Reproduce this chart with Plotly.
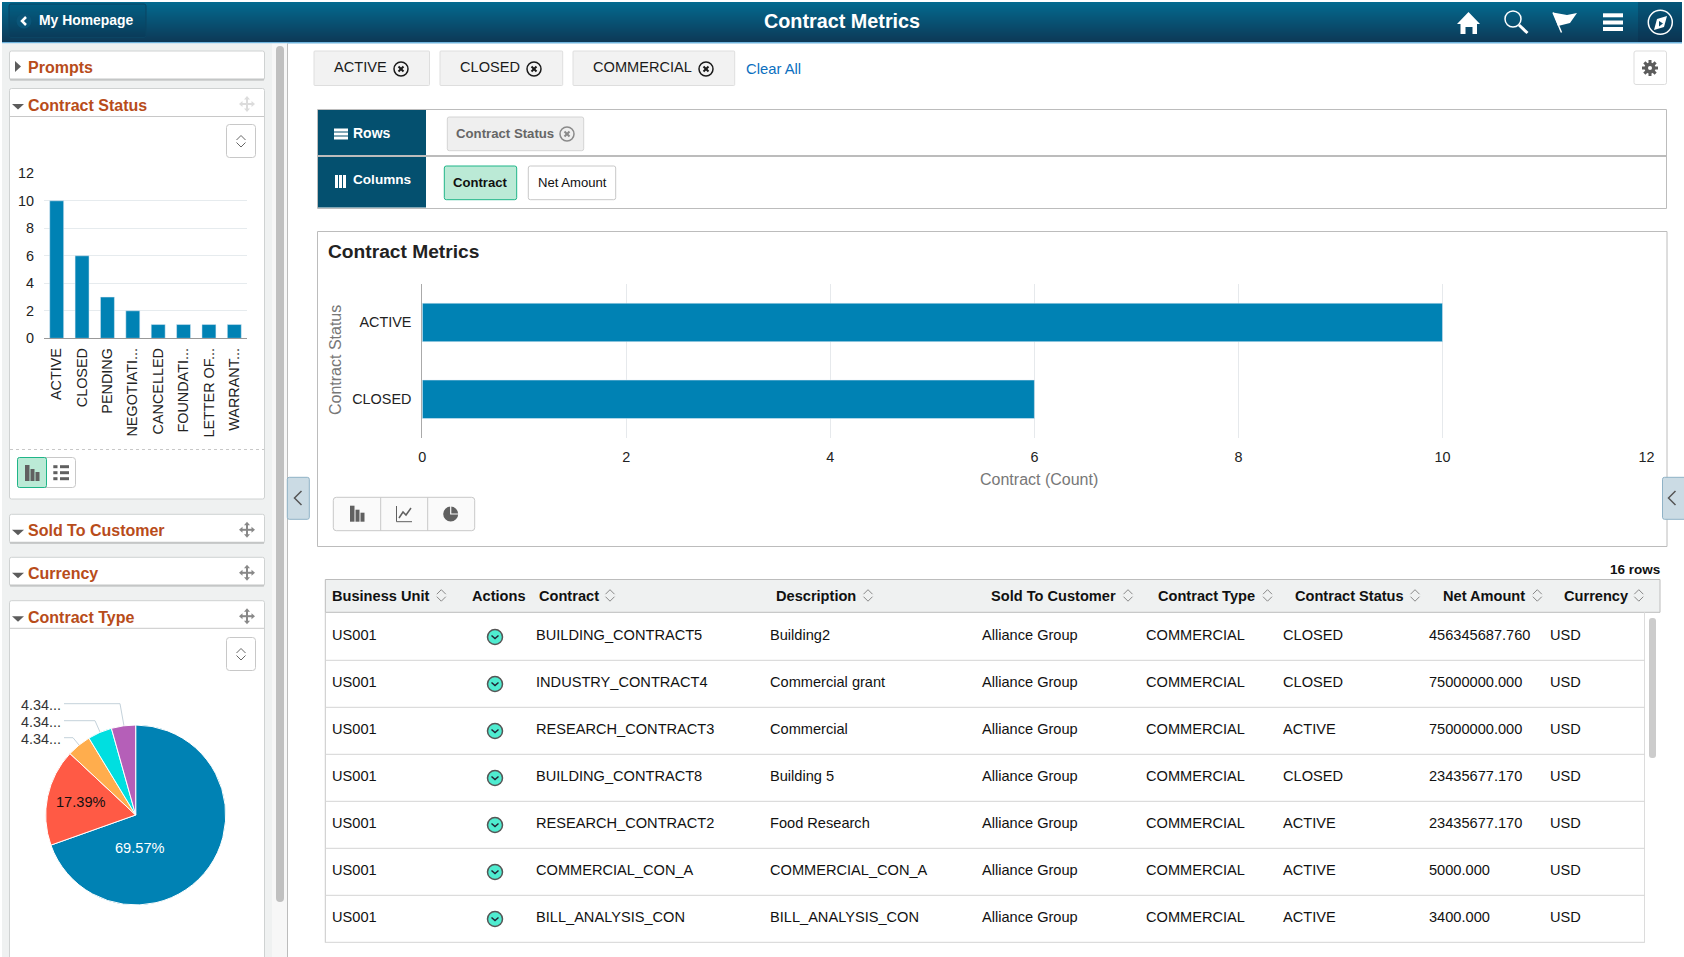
"""Contract Metrics pivot page, drawn as one Plotly figure in page pixels."""
import math

import plotly.graph_objects as go

W, H = 1684, 957
FONT = "Liberation Sans"
BLUE = "#0082b4"
ORANGE = "#b84c1a"

# left facet: contract status
status_labels = ["ACTIVE", "CLOSED", "PENDING", "NEGOTIATI...", "CANCELLED", "FOUNDATI...", "LETTER OF...", "WARRANT..."]
status_counts = [10, 6, 3, 2, 1, 1, 1, 1]

# left facet: contract type
type_names = ["Commercial", "Research", "Foundation", "Government", "Other"]
type_counts = [16, 4, 1, 1, 1]
type_colors = [BLUE, "#ff5a45", "#ffad4d", "#00dfe0", "#b55fb8"]
type_labels = ["69.57%", "17.39%", "4.34...", "4.34...", "4.34..."]

# main chart
chart_status = ["ACTIVE", "CLOSED"]
chart_counts = [10, 6]

# grid
table_headers = ["Business Unit", "Actions", "Contract", "Description", "Sold To Customer",
                 "Contract Type", "Contract Status", "Net Amount", "Currency"]
contracts = ["BUILDING_CONTRACT5", "INDUSTRY_CONTRACT4", "RESEARCH_CONTRACT3", "BUILDING_CONTRACT8",
             "RESEARCH_CONTRACT2", "COMMERCIAL_CON_A", "BILL_ANALYSIS_CON"]
descriptions = ["Building2", "Commercial grant", "Commercial", "Building 5",
                "Food Research", "COMMERCIAL_CON_A", "BILL_ANALYSIS_CON"]
row_status = ["CLOSED", "CLOSED", "ACTIVE", "CLOSED", "ACTIVE", "ACTIVE", "ACTIVE"]
net_amounts = ["456345687.760", "75000000.000", "75000000.000", "23435677.170",
               "23435677.170", "5000.000", "3400.000"]

shapes = []
notes = []


def px(x):
    return x / W


def py(y):
    return 1 - y / H


def rect(x0, y0, x1, y1, fill="rgba(0,0,0,0)", line=None, width=1, r=0):
    outline = dict(color=line, width=width) if line else dict(width=0)
    if r:
        path = (f"M{px(x0 + r)} {py(y0)} L{px(x1 - r)} {py(y0)} Q{px(x1)} {py(y0)} {px(x1)} {py(y0 + r)} "
                f"L{px(x1)} {py(y1 - r)} Q{px(x1)} {py(y1)} {px(x1 - r)} {py(y1)} "
                f"L{px(x0 + r)} {py(y1)} Q{px(x0)} {py(y1)} {px(x0)} {py(y1 - r)} "
                f"L{px(x0)} {py(y0 + r)} Q{px(x0)} {py(y0)} {px(x0 + r)} {py(y0)} Z")
        shapes.append(dict(type="path", xref="paper", yref="paper", path=path, fillcolor=fill, line=outline, layer="below"))
    else:
        shapes.append(dict(type="rect", xref="paper", yref="paper", x0=px(x0), x1=px(x1), y0=py(y0), y1=py(y1),
                           fillcolor=fill, line=outline, layer="below"))


def poly(pts, fill=None, line=None, width=1, closed=False, dash=None):
    path = "M" + " L".join(f"{px(x)} {py(y)}" for x, y in pts) + (" Z" if closed else "")
    outline = dict(color=line, width=width, dash=dash) if line else dict(width=0)
    shapes.append(dict(type="path", xref="paper", yref="paper", path=path, fillcolor=fill or "rgba(0,0,0,0)",
                       line=outline, layer="below"))


def circle(cx, cy, r, fill="rgba(0,0,0,0)", line=None, width=1):
    outline = dict(color=line, width=width) if line else dict(width=0)
    shapes.append(dict(type="circle", xref="paper", yref="paper", x0=px(cx - r), x1=px(cx + r),
                       y0=py(cy - r), y1=py(cy + r), fillcolor=fill, line=outline, layer="below"))


def note(text, x, y, size=14.6, color="#1a1a1a", bold=False, anchor="left", angle=0):
    notes.append(dict(text=f"<b>{text}</b>" if bold else text, x=px(x), y=py(y), xref="paper", yref="paper",
                      xanchor=anchor, yanchor="middle", showarrow=False, borderpad=0, borderwidth=0, textangle=angle,
                      font=dict(family=FONT, size=size, color=color)))


def sort_icon(cx, cy, color="#888"):
    poly([(cx - 4.5, cy - 1), (cx, cy - 5.5), (cx + 4.5, cy - 1)], line=color)
    poly([(cx - 4.5, cy + 1.5), (cx, cy + 6), (cx + 4.5, cy + 1.5)], line=color)


def move_icon(cx, cy, color="#888"):
    poly([(cx - 6, cy), (cx + 6, cy)], line=color, width=2)
    poly([(cx, cy - 6), (cx, cy + 6)], line=color, width=2)
    for sx, sy in [(1, 0), (-1, 0), (0, 1), (0, -1)]:
        tip = (cx + sx * 8, cy + sy * 8)
        a = (cx + sx * 4.5 + sy * 3, cy + sy * 4.5 + sx * 3)
        b = (cx + sx * 4.5 - sy * 3, cy + sy * 4.5 - sx * 3)
        poly([tip, a, b], fill=color, closed=True)


def close_icon(cx, cy, color="#1a1a1a"):
    circle(cx, cy, 7, line=color, width=1.5)
    poly([(cx - 2.5, cy - 2.5), (cx + 2.5, cy + 2.5)], line=color, width=2)
    poly([(cx - 2.5, cy + 2.5), (cx + 2.5, cy - 2.5)], line=color, width=2)


def bars_icon(x, y_bottom):
    rect(x, y_bottom - 16, x + 4.5, y_bottom, fill="#606060")
    rect(x + 5.5, y_bottom - 12, x + 9.5, y_bottom, fill="#606060")
    rect(x + 10.5, y_bottom - 9, x + 14.5, y_bottom, fill="#606060")


def facet_panel(y0, y1, title, open_panel=True, move_color="#888"):
    rect(9.5, y0, 264.5, y1, fill="white", line="#cfd2d2", r=2)
    if y1 - y0 < 40:
        poly([(10, y1 - 0.5), (264, y1 - 0.5)], line="#c4c6c6", width=2)
    tri_y = y0 + 15.5
    if open_panel:
        poly([(12, tri_y), (24, tri_y), (18, tri_y + 5.5)], fill="#5c5c5c", closed=True)
    else:
        poly([(15, tri_y - 5.5), (21, tri_y), (15, tri_y + 5.5)], fill="#5c5c5c", closed=True)
    note(title, 28, y0 + 16.5, size=16, color=ORANGE, bold=True)
    if move_color:
        move_icon(247, y0 + 15.5, move_color)


def sort_button(y0):
    rect(226.5, y0, 255.5, y0 + 33, fill="white", line="#c8c8c8", r=3)
    sort_icon(241, y0 + 16.5, "#666")


# title bar
for i in range(40):
    t = i / 39
    rgb = [round(a + (b - a) * t) for a, b in zip((3, 106, 143), (13, 57, 87))]
    rect(2, 2 + i, 1682, 3 + i, fill=f"rgb({rgb[0]},{rgb[1]},{rgb[2]})")
rect(2, 42, 1682, 43.5, fill="#6fb4de")
rect(9, 4, 146, 37.5, fill="rgba(0,40,70,0.14)", line="#0b4463", r=2)
circle(24, 21, 7.5, fill="#0a5578")
poly([(26, 17), (22, 21), (26, 25)], line="white", width=2.5)
note("My Homepage", 38.5, 20, size=13.9, color="white", bold=True)
note("Contract Metrics", 842, 21, size=19.8, color="white", bold=True, anchor="center")

poly([(1468.5, 12), (1480, 24), (1477, 24), (1477, 34), (1472.5, 34), (1472.5, 27), (1465.5, 27), (1465.5, 34),
      (1460.5, 34), (1460.5, 24), (1457, 24)], fill="white", closed=True)
circle(1513, 19, 8, line="white", width=1.5)
poly([(1519, 25), (1527.5, 33)], line="white", width=3)
poly([(1553, 12.5), (1561.5, 32.5)], line="white", width=1.5)
poly([(1553, 12.5), (1567, 15), (1577, 13), (1570, 23), (1558, 26)], fill="white", closed=True)
rect(1603, 13.3, 1623, 17.3, fill="white")
rect(1603, 20.5, 1623, 24.5, fill="white")
rect(1603, 27, 1623, 31, fill="white")
rect(1638, 2, 1682, 42, fill="rgba(10,40,70,0.3)")
circle(1660.3, 22.3, 12, line="white", width=1.5)
poly([(1667, 16), (1664, 27), (1654, 30), (1657, 19)], fill="white", closed=True)
poly([(1659, 21), (1659, 26.5), (1663, 23.5)], fill="#0c4a6a", closed=True)

# left column
rect(2, 43.5, 272, H, fill="#eff1f1")
rect(272, 43.5, 287, H, fill="#f7f7f7")
rect(276, 46, 284, 902, fill="#c0c0c0", r=4)
poly([(287.5, 43.5), (287.5, H)], line="#bcbcbc")

facet_panel(51, 80, "Prompts", open_panel=False, move_color=None)
facet_panel(88.5, 499, "Contract Status", move_color="#dcdcdc")
poly([(10, 116.5), (264, 116.5)], line="#c8c8c8")
sort_button(124.5)
poly([(10, 449.5), (264, 449.5)], line="#c8c8c8", dash="dot")
rect(17.5, 457.5, 75.5, 487.5, fill="white", line="#c8c8c8", r=3)
rect(17.5, 457.5, 46.5, 487.5, fill="#bbead6", line="#1fb588", r=2)
bars_icon(25, 481)
for row_y in (466.7, 472.7, 478.7):
    rect(53.3, row_y - 1.5, 57.5, row_y + 1.5, fill="#606060")
    rect(60, row_y - 1.5, 69, row_y + 1.5, fill="#606060")

facet_panel(514.3, 543.3, "Sold To Customer")
facet_panel(557.3, 586, "Currency")
facet_panel(600.7, H + 4, "Contract Type")
poly([(10, 628.3), (264, 628.3)], line="#c8c8c8")
sort_button(637.5)

# pie call-outs
for points, label, label_y in zip(
    [[(64, 703.7), (120, 703.7), (124, 726)], [(64, 720.7), (95, 720.7), (100, 732)], [(64, 737.7), (73, 737.7), (79, 745)]],
    type_labels[2:],
    [704.7, 721.7, 738.7],
):
    poly(points, line="#c4d2db")
    note(label, 21, label_y, size=14.4, color="#333")
note(type_labels[0], 140, 848, size=14.6, color="white", anchor="center")
note(type_labels[1], 81, 802, size=14.6, color="#111", anchor="center")

# filter chips
for x0, x1, text, text_x, icon_x in [(314, 429.5, "ACTIVE", 334.3, 401), (440, 562.7, "CLOSED", 460.3, 534),
                                     (573, 734.7, "COMMERCIAL", 593.3, 706)]:
    rect(x0, 51, x1, 85.5, fill="#f2f2f2", line="#dedede", r=1)
    note(text, text_x, 67.5, size=14.6)
    close_icon(icon_x, 69)
note("Clear All", 746, 68.5, size=14.8, color="#0b6fc0")
rect(1634, 51, 1666.5, 84.5, fill="white", line="#dddddd", r=2)
for k in range(8):
    a = k * math.pi / 4
    poly([(1650 + 3 * math.cos(a), 68 + 3 * math.sin(a)), (1650 + 8 * math.cos(a), 68 + 8 * math.sin(a))],
         line="#5c5c5c", width=3)
circle(1650, 68, 5.5, fill="#5c5c5c")
circle(1650, 68, 2, fill="white")

# rows and columns box
rect(317.5, 109.5, 1666.5, 208.5, fill="white", line="#bcbcbc")
rect(318, 110, 426, 155, fill="#04506f")
rect(318, 157, 426, 207.5, fill="#04506f")
poly([(318, 156), (1666, 156)], line="#bcbcbc", width=2)
for bar_y in (130, 134, 138):
    rect(334, bar_y - 1.5, 348, bar_y + 1.5, fill="white")
for bar_x in (336.5, 340.5, 344.5):
    rect(bar_x - 1.5, 175, bar_x + 1.5, 188, fill="white")
note("Rows", 353, 133, size=14, color="white", bold=True)
note("Columns", 353, 180, size=13.6, color="white", bold=True)
rect(447.3, 117, 583.7, 150.7, fill="#efefef", line="#d4d4d4", r=2)
note("Contract Status", 456, 133.5, size=13.2, color="#666", bold=True)
close_icon(567, 134, "#8a8a8a")
rect(444.3, 166, 516.7, 199.7, fill="#bbead6", line="#1fb588", r=2)
note("Contract", 480.5, 182.5, size=13.1, color="#111", bold=True, anchor="center")
rect(528.3, 166, 615.7, 199.7, fill="white", line="#c8c8c8", r=2)
note("Net Amount", 572.3, 182.5, size=13.1, color="#111", anchor="center")

# chart panel
rect(317.5, 231.5, 1667, 546.5, fill="white", line="#bcbcbc")
note("Contract Metrics", 328, 251, size=19.2, color="#222", bold=True)
note("Contract (Count)", 1039, 480, size=16, color="#777", anchor="center")
note("Contract Status", 335.5, 360.5, size=16, color="#777", anchor="center", angle=-90)
rect(333.3, 497.3, 474.7, 530.7, fill="#fafafa", line="#c8c8c8", r=3)
poly([(380.7, 497.3), (380.7, 530.7)], line="#c8c8c8")
poly([(427.7, 497.3), (427.7, 530.7)], line="#c8c8c8")
bars_icon(350, 521.7)
poly([(396.5, 506), (396.5, 521.7), (412, 521.7)], line="#606060")
poly([(399, 518), (403, 512), (406, 515), (411, 508)], line="#606060", width=1.5)
circle(450.7, 514, 7.5, fill="#606060")
poly([(450.7, 506), (450.7, 514), (459, 514)], line="#fafafa", width=1.2)

# collapse tabs
for x0, x1, chevron_x in [(287.3, 309.3, 298), (1662.5, 1690, 1672)]:
    rect(x0, 477.3, x1, 519.3, fill="#cbdbe4", line="#8fb2c6", r=2)
    poly([(chevron_x + 3.5, 491), (chevron_x - 3.5, 498), (chevron_x + 3.5, 505)], line="#555", width=1.5)

# grid
note("16 rows", 1660, 569.5, size=13.5, color="#111", bold=True, anchor="right")
rect(325.3, 579.5, 1660, 612.3, fill="#eff1f1", line="#bcbcbc")
poly([(325.3, 612.3), (325.3, 942.7)], line="#c8c8c8")
poly([(1644.5, 612.3), (1644.5, 942.7)], line="#dcdcdc")
rect(1649, 618, 1656, 758, fill="#cccccc", r=3)

header_x = [332, 472, 539, 776, 991, 1157.5, 1294.8, 1442.9, 1563.8]
sort_x = [441.3, None, 610, 868, 1128, 1267.5, 1415, 1537.3, 1638.8]
for label, x, icon in zip(table_headers, header_x, sort_x):
    note(label, x, 595.7, bold=True, color="#111")
    if icon:
        sort_icon(icon, 595.2)

for i, (contract, description, status, amount) in enumerate(zip(contracts, descriptions, row_status, net_amounts)):
    y = 635 + 47 * i
    poly([(325.3, y + 25.3), (1644.5, y + 25.3)], line="#d4d4d4")
    circle(495, y + 2, 7.5, fill="#4fecd0", line="#555", width=1.5)
    poly([(491.5, y + 0.5), (495, y + 3.5), (498.5, y + 0.5)], line="#223", width=1.5)
    for value, x in zip(["US001", contract, description, "Alliance Group", "COMMERCIAL", status, amount, "USD"],
                        [331.7, 535.7, 769.7, 981.8, 1146.4, 1282.8, 1429.3, 1550.2]):
        note(value, x, y, color="#111")

fig = go.Figure()
fig.add_trace(go.Bar(x=status_labels, y=status_counts, marker_color=BLUE, xaxis="x", yaxis="y"))
fig.add_trace(go.Bar(x=chart_counts, y=chart_status, orientation="h", marker_color=BLUE, xaxis="x2", yaxis="y2"))
fig.add_trace(go.Pie(
    labels=type_names, values=type_counts, sort=False, direction="clockwise", rotation=0, textinfo="none",
    marker=dict(colors=type_colors, line=dict(color="white", width=1)),
    domain=dict(x=[px(45.7), px(225.7)], y=[py(905), py(725)]),
))

tick_font = dict(family=FONT, size=14.4, color="#222")
# automargin is switched off: the default template would push the margins and shrink the paper
fig.update_layout(
    width=W,
    height=H,
    margin=dict(l=0, r=0, t=0, b=0),
    paper_bgcolor="white",
    plot_bgcolor="rgba(0,0,0,0)",
    showlegend=False,
    shapes=shapes,
    annotations=notes,
    font=dict(family=FONT),
    xaxis=dict(domain=[px(44), px(247)], anchor="y", type="category", tickangle=-90, tickfont=tick_font, automargin=False,
               showgrid=False, showline=True, linecolor="#999", ticks="", ticklabelstandoff=3),
    yaxis=dict(domain=[py(338.3), py(173.3)], anchor="x", range=[0, 12], dtick=2, tickfont=tick_font, automargin=False,
               gridcolor="#e6ebee", zeroline=False, ticks="", ticklabelstandoff=9),
    xaxis2=dict(domain=[px(422.3), px(1646.5)], anchor="y2", range=[0, 12], dtick=2, tickfont=tick_font, automargin=False,
                gridcolor="#e6e9ec", zeroline=False, ticks="", ticklabelstandoff=9),
    yaxis2=dict(domain=[py(437.7), py(284)], anchor="x2", type="category", autorange="reversed", tickfont=tick_font,
                automargin=False, showgrid=False, showline=True, linecolor="#aaa", ticks="", ticklabelstandoff=7),
)
fig.update_traces(selector=dict(type="bar"), width=0.55)
fig.data[1].width = 0.5

fig.write_html("out.html", config={"displayModeBar": False},
               post_script="document.body.style.margin='0';document.documentElement.style.overflow='hidden';")
